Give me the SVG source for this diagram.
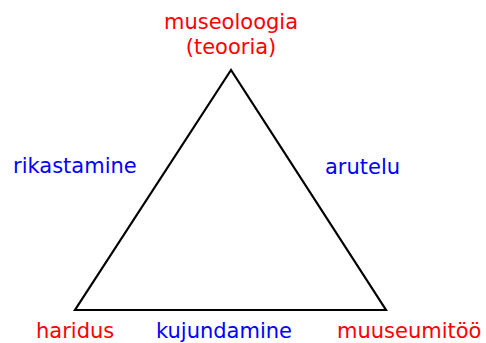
<svg xmlns="http://www.w3.org/2000/svg" width="486" height="343" viewBox="0 0 486 343">
<style>
text{font-family:"DejaVu Sans",Verdana,sans-serif;font-size:21px}
.r{fill:#ff0000}
.b{fill:#0000ff}
</style>
<rect width="486" height="343" fill="#fff"/>
<g id="connectors">
<polygon points="231,70 75,310 386,310" fill="none" stroke="#000" stroke-width="2.2"/>
</g>
<g id="museoloogia"><text class="r" x="231" y="29" text-anchor="middle">museoloogia</text><text class="r" x="231" y="54" text-anchor="middle">(teooria)</text></g>
<g id="haridus"><text class="r" x="36" y="338">haridus</text></g>
<g id="muuseumitoo"><text class="r" x="337" y="338">muuseumitöö</text></g>
<g id="rikastamine"><text class="b" x="13" y="173">rikastamine</text></g>
<g id="arutelu"><text class="b" x="325" y="174">arutelu</text></g>
<g id="kujundamine"><text class="b" x="156" y="338">kujundamine</text></g>
</svg>
